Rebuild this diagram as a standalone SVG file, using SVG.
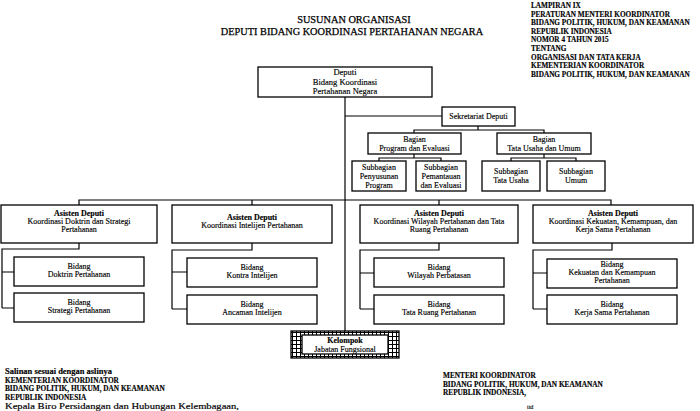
<svg xmlns="http://www.w3.org/2000/svg" width="700" height="411" viewBox="0 0 700 411">
<style>
text{font-family:"Liberation Serif","Times New Roman",serif;fill:#000;stroke:#000;stroke-width:0.15}
.hd{font-size:7.25px;font-weight:bold}
.tt{font-size:10.3px;text-anchor:middle;stroke-width:0.25}
.bx{fill:#fff;stroke:#000;stroke-width:1.3}
.t{font-size:8px;text-anchor:middle}
.d{font-size:8.5px}
.b{font-weight:bold}
.ln{fill:none;stroke:#000;stroke-width:1.2}
.ft{font-size:7.3px;font-weight:bold}
</style>
<defs>
<pattern id="grid" width="4" height="4" patternUnits="userSpaceOnUse">
<rect width="4" height="4" fill="#fff"/>
<path d="M0,0.5H4M0.5,0V4" stroke="#000" stroke-width="1"/>
</pattern>
</defs>
<rect width="700" height="411" fill="#fff"/>
<g id="header">
<text class="hd" x="531" y="8">LAMPIRAN IX</text>
<text class="hd" x="531" y="16.6">PERATURAN MENTERI KOORDINATOR</text>
<text class="hd" x="531" y="25.2">BIDANG POLITIK, HUKUM, DAN KEAMANAN</text>
<text class="hd" x="531" y="33.8">REPUBLIK INDONESIA</text>
<text class="hd" x="531" y="42.4">NOMOR 4 TAHUN 2015</text>
<text class="hd" x="531" y="51">TENTANG</text>
<text class="hd" x="531" y="59.6">ORGANISASI DAN TATA KERJA</text>
<text class="hd" x="531" y="68.2">KEMENTERIAN KOORDINATOR</text>
<text class="hd" x="531" y="76.8">BIDANG POLITIK, HUKUM, DAN KEAMANAN</text>
</g>
<g id="title">
<text class="tt" x="354" y="23">SUSUNAN ORGANISASI</text>
<text class="tt" x="352" y="34.5">DEPUTI BIDANG KOORDINASI PERTAHANAN NEGARA</text>
</g>
<g id="connectors">
<path class="ln" d="M345,97V331"/>
<path class="ln" d="M345,116H442"/>
<path class="ln" d="M478,126V130M414,133V130H544V133"/>
<path class="ln" d="M379,161V158H441V161M414,154V158"/>
<path class="ln" d="M511,161V158H576V161M544,154V158"/>
<path class="ln" d="M79,205V200H611V205M252,200V205M439,200V205"/>
<path class="ln" d="M79,243V249H2V308M2,272H14M2,308H14"/>
<path class="ln" d="M252,243V250H172V309M172,272H187M172,309H187"/>
<path class="ln" d="M439,243V250H360V309M360,273H374M360,309H374"/>
<path class="ln" d="M612,243V250H533V309M533,273H547M533,309H547"/>
</g>
<g id="deputi">
<rect class="bx" x="258" y="67" width="174" height="30"/>
<text class="t d" x="345" y="75">Deputi</text>
<text class="t d" x="345" y="84.5">Bidang Koordinasi</text>
<text class="t d" x="345" y="94">Pertahanan Negara</text>
</g>
<g id="sekretariat">
<rect class="bx" x="442" y="107" width="73" height="19"/>
<text class="t" x="478.5" y="119">Sekretariat Deputi</text>
</g>
<g id="bagian-program">
<rect class="bx" x="368" y="133" width="93" height="21"/>
<text class="t" x="414.5" y="142">Bagian</text>
<text class="t" x="414.5" y="151">Program dan Evaluasi</text>
</g>
<g id="bagian-tu">
<rect class="bx" x="497" y="133" width="94" height="21"/>
<text class="t" x="544" y="142">Bagian</text>
<text class="t" x="544" y="151">Tata Usaha dan Umum</text>
</g>
<g id="sub-penyusunan">
<rect class="bx" x="352" y="161" width="54" height="30"/>
<text class="t" x="379" y="170">Subbagian</text>
<text class="t" x="379" y="179">Penyusunan</text>
<text class="t" x="379" y="188">Program</text>
</g>
<g id="sub-pemantauan">
<rect class="bx" x="416" y="161" width="50" height="30"/>
<text class="t" x="441" y="170">Subbagian</text>
<text class="t" x="441" y="179">Pemantauan</text>
<text class="t" x="441" y="188">dan Evaluasi</text>
</g>
<g id="sub-tu">
<rect class="bx" x="482" y="161" width="58" height="30"/>
<text class="t" x="511" y="174">Subbagian</text>
<text class="t" x="511" y="183">Tata Usaha</text>
</g>
<g id="sub-umum">
<rect class="bx" x="547" y="161" width="58" height="30"/>
<text class="t" x="576" y="174">Subbagian</text>
<text class="t" x="576" y="183">Umum</text>
</g>
<g id="asdep-doktrin">
<rect class="bx" x="1" y="205" width="156" height="38"/>
<text class="t b" x="79" y="216">Asisten Deputi</text>
<text class="t" x="79" y="224">Koordinasi Doktrin dan Strategi</text>
<text class="t" x="79" y="232">Pertahanan</text>
</g>
<g id="asdep-intelijen">
<rect class="bx" x="172" y="205" width="160" height="38"/>
<text class="t b" x="252" y="220">Asisten Deputi</text>
<text class="t" x="252" y="228">Koordinasi Intelijen Pertahanan</text>
</g>
<g id="asdep-wilayah">
<rect class="bx" x="360" y="205" width="158" height="38"/>
<text class="t b" x="439" y="216">Asisten Deputi</text>
<text class="t" x="439" y="224">Koordinasi Wilayah Pertahanan dan Tata</text>
<text class="t" x="439" y="232">Ruang Pertahanan</text>
</g>
<g id="asdep-kekuatan">
<rect class="bx" x="533" y="205" width="160" height="38"/>
<text class="t b" x="613" y="216">Asisten Deputi</text>
<text class="t" x="613" y="224">Koordinasi Kekuatan, Kemampuan, dan</text>
<text class="t" x="613" y="232">Kerja Sama Pertahanan</text>
</g>
<g id="bidang-doktrin">
<rect class="bx" x="14" y="257" width="130" height="29"/>
<text class="t" x="79" y="269">Bidang</text>
<text class="t" x="79" y="277">Doktrin Pertahanan</text>
</g>
<g id="bidang-strategi">
<rect class="bx" x="14" y="293" width="130" height="29"/>
<text class="t" x="79" y="305">Bidang</text>
<text class="t" x="79" y="313">Strategi Pertahanan</text>
</g>
<g id="bidang-kontra">
<rect class="bx" x="187" y="258" width="130" height="29"/>
<text class="t" x="252" y="270">Bidang</text>
<text class="t" x="252" y="278">Kontra Intelijen</text>
</g>
<g id="bidang-ancaman">
<rect class="bx" x="187" y="295" width="130" height="29"/>
<text class="t" x="252" y="307">Bidang</text>
<text class="t" x="252" y="315">Ancaman Intelijen</text>
</g>
<g id="bidang-wilayah">
<rect class="bx" x="374" y="258" width="130" height="29"/>
<text class="t" x="439" y="270">Bidang</text>
<text class="t" x="439" y="278">Wilayah Perbatasan</text>
</g>
<g id="bidang-tataruang">
<rect class="bx" x="374" y="295" width="130" height="29"/>
<text class="t" x="439" y="307">Bidang</text>
<text class="t" x="439" y="315">Tata Ruang Pertahanan</text>
</g>
<g id="bidang-kekuatan">
<rect class="bx" x="547" y="259" width="130" height="29"/>
<text class="t" x="612" y="267">Bidang</text>
<text class="t" x="612" y="275">Kekuatan dan Kemampuan</text>
<text class="t" x="612" y="283">Pertahanan</text>
</g>
<g id="bidang-kerjasama">
<rect class="bx" x="547" y="295" width="130" height="29"/>
<text class="t" x="612" y="307">Bidang</text>
<text class="t" x="612" y="315">Kerja Sama Pertahanan</text>
</g>
<g id="kelompok">
<rect x="291" y="331" width="108" height="27" fill="url(#grid)" stroke="#000" stroke-width="1.3"/>
<rect class="bx" x="302" y="335" width="86" height="19"/>
<text class="t b" x="345" y="343">Kelompok</text>
<text class="t" x="345" y="351.5">Jabatan Fungsional</text>
</g>
<g id="footer-left">
<text class="ft" x="5" y="374" textLength="107" lengthAdjust="spacingAndGlyphs">Salinan sesuai dengan aslinya</text>
<text class="ft" x="5" y="382.5">KEMENTERIAN KOORDINATOR</text>
<text class="ft" x="5" y="391">BIDANG POLITIK, HUKUM, DAN KEAMANAN</text>
<text class="ft" x="5" y="399.5">REPUBLIK INDONESIA</text>
<text class="ft" x="5" y="408.5" textLength="234" lengthAdjust="spacingAndGlyphs" style="font-weight:normal">Kepala Biro Persidangan dan Hubungan Kelembagaan,</text>
</g>
<g id="footer-right">
<text class="ft" x="443" y="378">MENTERI KOORDINATOR</text>
<text class="ft" x="443" y="386.5">BIDANG POLITIK, HUKUM, DAN KEAMANAN</text>
<text class="ft" x="443" y="395">REPUBLIK INDONESIA,</text>
<text class="ft" x="527" y="408.5" style="font-weight:normal;font-size:6px">ttd</text>
</g>
</svg>
